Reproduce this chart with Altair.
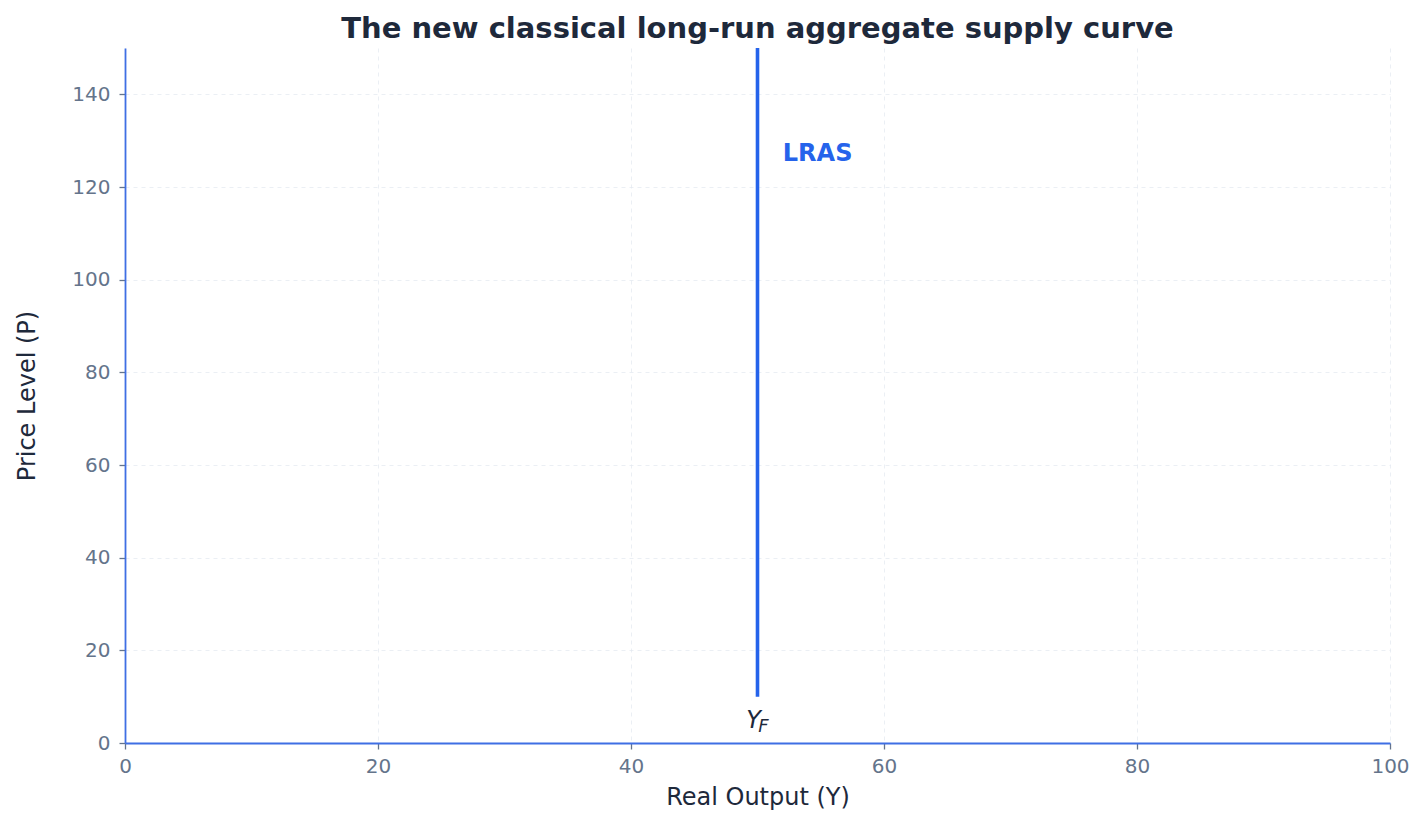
import altair as alt
import pandas as pd

# Data
lras_x = [50, 50]
lras_y = [10, 150]
label_text = ["LRAS"]
label_x = [52]
label_y = [125.6]
yf_x = [50]
yf_y = [3.2]

x_ticks = [0, 20, 40, 60, 80, 100]
y_ticks = [0, 20, 40, 60, 80, 100, 120, 140]

BLUE = "#2563eb"
AXIS_BLUE = "#3f6fe4"
GRAY = "#64748b"
DARK = "#1e293b"
FONT = "DejaVu Sans"

lras_df = pd.DataFrame({"x": lras_x, "y": lras_y})
lab_df = pd.DataFrame({"x": label_x, "y": label_y, "t": label_text})
yf_df = pd.DataFrame({"x": yf_x, "y": yf_y})

xscale = alt.Scale(domain=[0, 100], nice=False, zero=False)
yscale = alt.Scale(domain=[0, 150], nice=False, zero=False)

xaxis = alt.Axis(
    values=x_ticks, title="Real Output (Y)", format="d", labelFlush=False,
    labelFontSize=20, titleFontSize=24, labelPadding=7, titlePadding=9,
)
yaxis = alt.Axis(
    values=y_ticks, title="Price Level (P)", format="d",
    labelFontSize=20, titleFontSize=24, labelPadding=9, titlePadding=32,
)

line = alt.Chart(lras_df).mark_line(color=BLUE, strokeWidth=3.6).encode(
    x=alt.X("x:Q", scale=xscale, axis=xaxis),
    y=alt.Y("y:Q", scale=yscale, axis=yaxis),
)

lab = alt.Chart(lab_df).mark_text(
    color=BLUE, fontWeight="bold", fontSize=24, align="left", baseline="alphabetic", font=FONT
).encode(x=alt.X("x:Q", scale=xscale), y=alt.Y("y:Q", scale=yscale), text="t:N")

yf_main = alt.Chart(yf_df).mark_text(
    text="Y", color=DARK, fontStyle="italic", fontSize=24, align="center",
    baseline="alphabetic", dx=-4, font=FONT
).encode(x=alt.X("x:Q", scale=xscale), y=alt.Y("y:Q", scale=yscale))

yf_sub = alt.Chart(yf_df).mark_text(
    text="F", color=DARK, fontStyle="italic", fontSize=18, align="center",
    baseline="alphabetic", dx=6, dy=4, font=FONT
).encode(x=alt.X("x:Q", scale=xscale), y=alt.Y("y:Q", scale=yscale))

chart = alt.layer(line, lab, yf_main, yf_sub).properties(
    width=1265,
    height=695,
    title=alt.TitleParams(
        "The new classical long-run aggregate supply curve",
        fontSize=29, fontWeight="bold", color=DARK, font=FONT,
        anchor="middle", baseline="alphabetic", offset=10, frame="group", dy=36,
    ),
    autosize=alt.AutoSizeParams(type="none"),
    padding={"left": 117, "top": 40, "right": 25, "bottom": 70},
).configure_view(stroke=None).configure_axis(
    domainColor=AXIS_BLUE,
    domainWidth=1.8,
    tickColor=GRAY,
    tickSize=6,
    tickWidth=1.3,
    labelColor=GRAY,
    labelFont=FONT,
    titleFont=FONT,
    titleFontWeight="normal",
    titleColor=DARK,
    gridColor="#e2e8f0",
    gridOpacity=0.7,
    gridDash=[4, 4],
    gridWidth=1,
)

chart.save("out.html", embed_options={"renderer": "svg", "actions": False})
